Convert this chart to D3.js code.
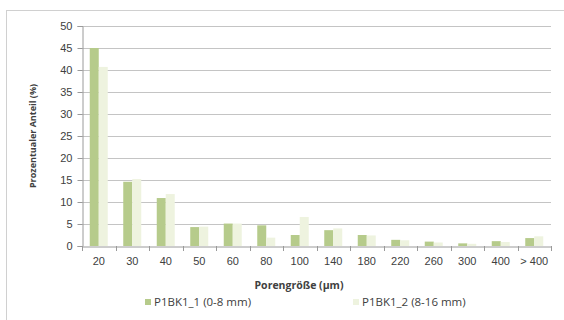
<!DOCTYPE html>
<html>
<head>
<meta charset="utf-8">
<script src="https://cdn.jsdelivr.net/npm/d3@7"></script>
<style>
  body { margin: 0; background: #fff; }
  svg { display: block; font-family: "Open Sans", "DejaVu Sans", sans-serif; }
</style>
</head>
<body>
<svg width="564" height="320"></svg>
<script>
const categories = ["20", "30", "40", "50", "60", "80", "100", "140", "180", "220", "260", "300", "400", "> 400"];
const series1 = [45, 14.6, 10.9, 4.3, 5.1, 4.7, 2.5, 3.6, 2.5, 1.4, 1.0, 0.6, 1.1, 1.8];
const series2 = [40.7, 15.2, 11.8, 4.4, 5.1, 1.9, 6.6, 4.0, 2.4, 1.3, 0.8, 0.5, 0.9, 2.2];
const seriesNames = ["P1BK1_1 (0-8 mm)", "P1BK1_2 (8-16 mm)"];
const yTicks = [0, 5, 10, 15, 20, 25, 30, 35, 40, 45, 50];

const colors = ["#b6cb8b", "#eef3df"];

const svg = d3.select("svg");

// outer frame
svg.append("rect")
  .attr("x", 6.5).attr("y", 10.5)
  .attr("width", 570).attr("height", 330)
  .attr("fill", "none").attr("stroke", "#d0d0d0");

const plotLeft = 82, plotRight = 551, plotTop = 26, plotBottom = 246;

const x = d3.scaleBand().domain(categories).range([plotLeft, plotRight]);
const y = d3.scaleLinear().domain([0, 50]).range([plotBottom, plotTop]);

// gridlines
svg.append("g")
  .selectAll("line")
  .data(yTicks.slice(1))
  .join("line")
  .attr("x1", plotLeft).attr("x2", plotRight)
  .attr("y1", (d) => Math.round(y(d)) + 0.5)
  .attr("y2", (d) => Math.round(y(d)) + 0.5)
  .attr("stroke", "#c4c4c4");

const barW = 9;

[series1, series2].forEach((s, k) => {
  svg.append("g")
    .selectAll("rect")
    .data(s)
    .join("rect")
    .attr("x", (d, i) => x(categories[i]) + x.bandwidth() / 2 - barW + k * barW)
    .attr("y", (d) => y(d))
    .attr("width", barW)
    .attr("height", (d) => y(0) - y(d))
    .attr("fill", colors[k]);
});

// y axis
const yAxis = svg.append("g")
  .attr("transform", `translate(${plotLeft + 0.5},0)`)
  .call(d3.axisLeft(y).tickValues(yTicks).tickSize(5).tickPadding(5));
yAxis.select(".domain").attr("stroke", "#9a9a9a");
yAxis.selectAll(".tick line").attr("stroke", "#9a9a9a");
yAxis.selectAll("text").attr("font-size", 11).attr("fill", "#404040");

// x axis
const xAxis = svg.append("g")
  .attr("transform", `translate(0,${plotBottom + 0.5})`)
  .call(d3.axisBottom(x).tickSize(0).tickPadding(11));
xAxis.select(".domain").attr("stroke", "#9a9a9a");
xAxis.selectAll("text").attr("font-size", 11).attr("fill", "#404040");
svg.append("g")
  .selectAll("line")
  .data(categories.concat([null]))
  .join("line")
  .attr("x1", (d, i) => Math.round(plotLeft + i * x.step()) + 0.5)
  .attr("x2", (d, i) => Math.round(plotLeft + i * x.step()) + 0.5)
  .attr("y1", plotBottom).attr("y2", plotBottom + 5)
  .attr("stroke", "#9a9a9a");

// axis titles
svg.append("text")
  .attr("x", 299).attr("y", 289)
  .attr("text-anchor", "middle")
  .attr("font-size", 10.5).attr("font-weight", "bold").attr("fill", "#404040")
  .text("Porengröße (µm)");

svg.append("text")
  .attr("transform", "translate(36,136) rotate(-90)")
  .attr("text-anchor", "middle")
  .attr("font-size", 9).attr("font-weight", "bold").attr("fill", "#404040")
  .text("Prozentualer Anteil (%)");

// legend
const legendX = [145, 353];
seriesNames.forEach((name, k) => {
  svg.append("rect")
    .attr("x", legendX[k]).attr("y", 299)
    .attr("width", 6).attr("height", 6)
    .attr("fill", colors[k]);
  svg.append("text")
    .attr("x", legendX[k] + 9).attr("y", 306)
    .attr("font-size", 11.5).attr("fill", "#404040")
    .text(name);
});
</script>
</body>
</html>
